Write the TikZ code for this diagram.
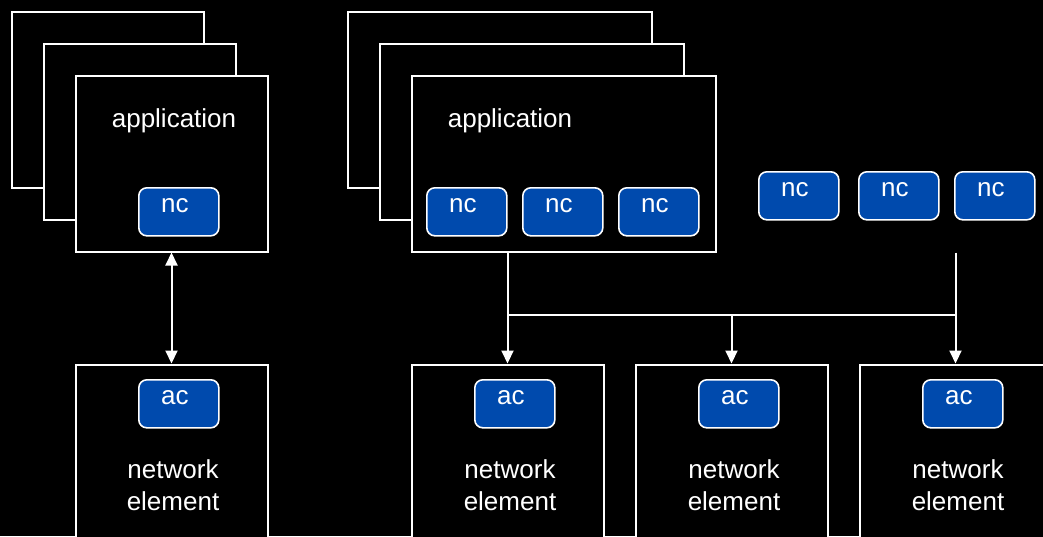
\documentclass[tikz,border=0pt]{standalone}
\usepackage{fontspec}
\setmainfont{Liberation Sans}
\usetikzlibrary{arrows.meta}
\definecolor{ncblue}{HTML}{004AAD}
\begin{document}
\begin{tikzpicture}[x=1pt,y=-1pt,
  frame/.style={draw=white, line width=2pt, fill=black, rectangle, inner sep=0pt, anchor=north west},
  appbox/.style={frame, minimum height=176pt},
  nebox/.style={frame, minimum width=192pt, minimum height=200pt},
  chip/.style={draw=white, line width=1.6pt, fill=ncblue, rounded corners=8pt,
    minimum width=80pt, minimum height=48pt, inner xsep=0pt, inner ysep=0pt,
    text height=25pt, text depth=23pt, text=white, font=\fontsize{26}{30}\selectfont,
    anchor=north west, execute at end node={\kern8pt}},
  lbl/.style={text=white, font=\fontsize{26}{32}\selectfont, inner sep=0pt, anchor=base},
  wire/.style={draw=white, line width=2pt},
  tip/.style={-{Triangle[length=13pt,width=12pt]}},
  dtip/.style={{Triangle[length=13pt,width=12pt]}-{Triangle[length=13pt,width=12pt]}}]
\fill[black] (0,0) rectangle (1043,536);
\useasboundingbox (0,0) rectangle (1043,536);
\clip (0,0) rectangle (1043,536);

% left application stack
\node[appbox, minimum width=192pt] (L1) at (10.5,10.5) {};
\node[appbox, minimum width=192pt] (L2) at (42.5,42.5) {};
\node[appbox, minimum width=192pt] (A1) at (74.5,74.5) {};
\node[lbl] (A1t) at (174,127) {application};
\node[chip] (nc1) at (138,187) {nc};

% right application stack
\node[appbox, minimum width=304pt] (R1) at (346.5,10.5) {};
\node[appbox, minimum width=304pt] (R2) at (378.5,42.5) {};
\node[appbox, minimum width=304pt] (A2) at (410.5,74.5) {};
\node[lbl] (A2t) at (510,127) {application};
\node[chip] (nc2) at (426,187) {nc};
\node[chip] (nc3) at (522,187) {nc};
\node[chip] (nc4) at (618,187) {nc};

% free nc nodes
\node[chip] (nc5) at (758,171) {nc};
\node[chip] (nc6) at (858,171) {nc};
\node[chip] (nc7) at (954,171) {nc};

% network elements
\node[nebox] (N1) at (74.5,363.5) {};
\node[nebox] (N2) at (410.5,363.5) {};
\node[nebox] (N3) at (634.5,363.5) {};
\node[nebox] (N4) at (858.5,363.5) {};
\node[chip] (ac1) at (138,379) {ac};
\node[chip] (ac2) at (474,379) {ac};
\node[chip] (ac3) at (698,379) {ac};
\node[chip] (ac4) at (922,379) {ac};
\node[lbl] (n1a) at (173,478) {network};
\node[lbl] (n1b) at (173,510) {element};
\node[lbl] (n2a) at (510,478) {network};
\node[lbl] (n2b) at (510,510) {element};
\node[lbl] (n3a) at (734,478) {network};
\node[lbl] (n3b) at (734,510) {element};
\node[lbl] (n4a) at (958,478) {network};
\node[lbl] (n4b) at (958,510) {element};

% connectors
\draw[wire, dtip] (A1.south) -- (N1.north);
\coordinate (J) at (N4.north |- A2.south);
\coordinate (H2) at (N2.north |- 0,315);
\coordinate (H3) at (N3.north |- 0,315);
\coordinate (H4) at (N4.north |- 0,315);
\draw[wire, tip] (N2.north |- A2.south) -- (N2.north);
\draw[wire, tip] (J) -- (N4.north);
\draw[wire] (H2) -- (H4);
\draw[wire, tip] (H3) -- (N3.north);
\end{tikzpicture}
\end{document}
